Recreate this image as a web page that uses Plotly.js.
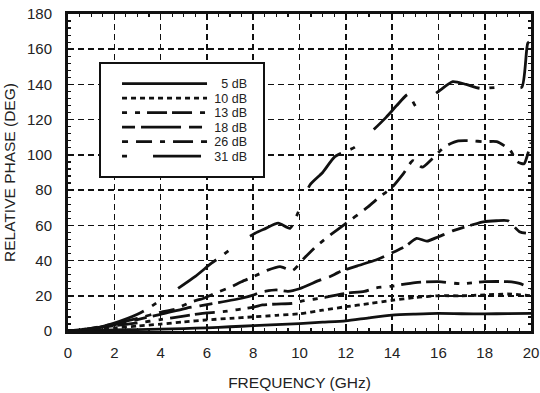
<!DOCTYPE html>
<html>
<head>
<meta charset="utf-8">
<script src="https://cdn.plot.ly/plotly-3.0.1.min.js"></script>
<style>html,body{margin:0;padding:0;background:#fff;}#chart{width:540px;height:393px;}</style>
</head>
<body>
<div id="chart"></div>
<script>
// ---- data (frequency in GHz, phase in degrees) ----
const seriesNames = ["5 dB", "10 dB", "13 dB", "18 dB", "26 dB", "31 dB"];

const freq5  = [0,1,2,3,4,5,6,7,8,9,10,11,12,13,14,15,16,17,18,19,20];
const phase5 = [0,0.3,0.6,0.8,1.1,1.4,1.8,2.4,3.0,3.6,4.2,5.0,5.8,7.5,9.0,9.6,10,9.8,9.7,9.9,10];

const freq10  = [0,1,2,3,4,5,6,7,8,9,10,11,12,13,14,15,16,17,18,19,20];
const phase10 = [0,0.8,1.8,2.8,3.9,5.2,6.3,7.2,8.0,8.9,9.8,11.8,13.8,15.5,17.4,19,20,20,20.5,21,20];

const freq13  = [0,1,2,3,4,5,6,6.7,8,8.4,9,9.7,10.2,11,12,12.8,13.3,14,15,16,17,18,19,19.5,20];
const phase13 = [0,1.3,3,4.6,6.5,8.5,10.3,11,13.5,14.8,15.3,15.7,17.2,18.8,21.4,22.5,24.5,25.5,27.5,28,26.8,28,28,27,24];

const freq18  = [0,1,2,3,4,5.1,6.3,7.5,8,8.3,9,9.5,10,10.9,11.3,11.75,12.5,13.3,14.1,14.56,15.06,15.5,16,16.64,17.44,17.94,18.5,19,19.5,19.88,20];
const phase18 = [0,1.5,3.5,6.5,9.5,12.9,15.7,18.6,20.4,22,23.3,22.5,24,29,30.8,33.7,37,40.3,45,47.9,52.6,51,53.5,57,60.2,62,62.6,62.6,56.4,55.5,56];

const freq26  = [0,1,2,3,4.1,4.6,5.34,5.87,6.42,7,7.5,8,8.6,9.16,9.7,10.2,10.74,11.24,12.4,12.97,13.48,13.98,14.48,14.9,15.3,15.75,16.28,16.86,17.44,17.97,18.52,19.09,19.41,19.7,19.85,20];
const phase26 = [0,1.5,4,7.2,11,12.3,16.6,18.6,21.8,24.8,28,30.8,34.4,36.5,34.4,41.3,48.3,53.6,64.9,70.6,76.3,81.3,89.2,96.7,93,98,104.7,107.9,108,107.5,107.5,102.8,96.1,95,100,107];

const freq31  = [0,1,2,3,3.47,4.8,5.5,6.2,6.75,7.4,8.08,8.5,9.08,9.59,9.88,10.45,11,11.53,12.4,13.1,13.74,14.2,14.7,15.06,15.39,16,16.62,17.2,17.8,18.59,19.1,19.6,19.86,20];
const phase31 = [0,1,4.5,9.5,12.9,24.6,31,38.5,43.7,50,55.5,58,61.2,58.3,65.5,82.9,90,99,104.5,113,121.3,128,134.4,127,130.2,136,141.6,140,137.8,138.4,138.4,138.4,163.4,165];

const xTicks = [0,2,4,6,8,10,12,14,16,18,20];
const yTicks = [0,20,40,60,80,100,120,140,160,180];

// ---- styling ----
const dashes = [
  "solid",
  "5px,4px",
  "5px,8px,5px,7px,20px,5px,20px,8px",
  "13px,6px,40px,8px",
  "6px,8px,16px,8px,5px,8px,20px,8px",
  "5px,26px,48px,10px"
];
const xs = [freq5, freq10, freq13, freq18, freq26, freq31];
const ys = [phase5, phase10, phase13, phase18, phase26, phase31];

const traces = seriesNames.map((n, i) => ({
  x: xs[i], y: ys[i], name: n, type: "scatter", mode: "lines",
  line: {color: "#111", width: 2.8, dash: dashes[i], shape: "spline", smoothing: 0.6},
  hoverinfo: "skip"
}));

const fontFam = "Liberation Sans, Arial, Helvetica, sans-serif";
const axisCommon = {
  showline: true, linecolor: "#111", linewidth: 3, mirror: "allticks",
  ticks: "inside", ticklen: 5, tickwidth: 1.5, tickcolor: "#111",
  showgrid: true, gridcolor: "#111", gridwidth: 1.6, griddash: "6px,4px",
  zeroline: false, tickfont: {family: fontFam, size: 15, color: "#222"},
  fixedrange: true
};

const layout = {
  width: 540, height: 393,
  margin: {l: 68, r: 9, t: 14, b: 62},
  paper_bgcolor: "#fff", plot_bgcolor: "#fff",
  font: {family: fontFam, color: "#222"},
  showlegend: true,
  legend: {
    x: 0.067, y: 0.85, xanchor: "left", yanchor: "top",
    bgcolor: "#fff", bordercolor: "#111", borderwidth: 2,
    font: {family: fontFam, size: 12.5, color: "#222"},
    itemwidth: 90, tracegroupgap: 0
  },
  xaxis: Object.assign({}, axisCommon, {
    range: [0, 20], tickvals: xTicks, ticktext: xTicks.map(String),
    ticklabelstandoff: 6,
    minor: {dtick: 0.5, ticks: "inside", ticklen: 3, tickcolor: "#111", tickwidth: 1.2, showgrid: false},
    title: {text: "FREQUENCY (GHz)", font: {family: fontFam, size: 15.5, color: "#222"}, standoff: 18}
  }),
  yaxis: Object.assign({}, axisCommon, {
    range: [0, 180], tickvals: yTicks, ticktext: yTicks.map(String),
    ticklabelstandoff: 10,
    minor: {dtick: 4, ticks: "inside", ticklen: 3, tickcolor: "#111", tickwidth: 1.2, showgrid: false},
    title: {text: "RELATIVE PHASE (DEG)", font: {family: fontFam, size: 15.5, color: "#222"}, standoff: 8}
  })
};

Plotly.newPlot("chart", traces, layout, {staticPlot: true, displayModeBar: false}).then(gd => {
  // tighten the legend to match the reference: long line samples, right-aligned labels
  const leg = gd.querySelector(".legend");
  if (!leg) return;
  leg.querySelectorAll("[clip-path]").forEach(el => el.removeAttribute("clip-path"));
  const items = leg.querySelectorAll(".traces");
  items.forEach((g, i) => {
    const m = /translate\(\s*([-\d.]+)/.exec(g.getAttribute("transform") || "");
    const x0 = m ? parseFloat(m[1]) : 0;
    g.setAttribute("transform", "translate(" + x0 + "," + (22 + i * 14.5) + ")");
    const p = g.querySelector(".legendlines path");
    if (p) p.setAttribute("d", "M21,0h85");
    const t = g.querySelector("text.legendtext");
    if (t) { t.setAttribute("x", 146); t.setAttribute("text-anchor", "end"); }
  });
  const bg = leg.querySelector("rect.bg");
  if (bg) { bg.setAttribute("height", 114); bg.setAttribute("width", 164); }
});
</script>
</body>
</html>
